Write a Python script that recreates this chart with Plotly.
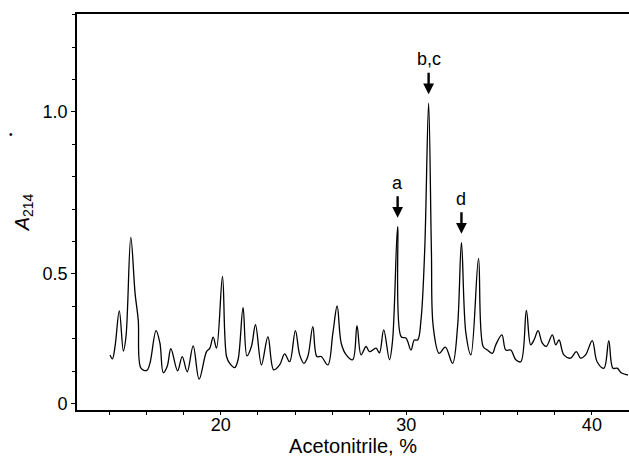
import plotly.graph_objects as go

# Chromatogram trace (acetonitrile %, A214)
acetonitrile = [14.03, 14.16, 14.30, 14.53, 14.75, 14.89, 15.15, 15.38, 15.55, 15.70,
                16.01, 16.18, 16.51, 16.72, 16.90, 17.11, 17.31, 17.67, 17.92, 18.19,
                18.51, 18.83, 19.23, 19.41, 19.59, 19.77, 20.09, 20.31, 20.48, 20.75,
                20.93, 21.20, 21.41, 21.65, 21.87, 22.19, 22.54, 22.85, 23.17, 23.44,
                23.71, 24.02, 24.25, 24.48, 24.69, 24.96, 25.18, 25.41, 25.77, 26.04,
                26.27, 26.49, 26.76, 27.11, 27.34, 27.56, 27.83, 28.01, 28.37, 28.55,
                28.78, 29.09, 29.26, 29.53, 29.72, 29.98, 30.25, 30.43, 30.61, 30.79,
                30.99, 31.20, 31.35, 31.45, 31.77, 32.10, 32.49, 32.76, 32.97, 33.21,
                33.48, 33.89, 34.14, 34.37, 34.64, 34.82, 35.15, 35.36, 35.63, 35.90,
                36.17, 36.47, 36.70, 36.88, 37.10, 37.33, 37.54, 37.87, 38.05, 38.23,
                38.49, 38.85, 39.16, 39.39, 39.66, 40.02, 40.28, 40.65, 40.91, 41.13,
                41.36, 41.60, 41.94]
absorbance = [0.250, 0.238, 0.276, 0.386, 0.262, 0.306, 0.613, 0.440, 0.358, 0.209,
              0.202, 0.224, 0.325, 0.286, 0.195, 0.214, 0.269, 0.201, 0.245, 0.198,
              0.278, 0.175, 0.260, 0.271, 0.305, 0.271, 0.492, 0.245, 0.224, 0.211,
              0.235, 0.396, 0.247, 0.276, 0.343, 0.219, 0.306, 0.204, 0.219, 0.253,
              0.229, 0.325, 0.250, 0.224, 0.245, 0.337, 0.245, 0.245, 0.219, 0.317,
              0.401, 0.286, 0.250, 0.235, 0.340, 0.250, 0.276, 0.260, 0.271, 0.256,
              0.327, 0.235, 0.296, 0.646, 0.306, 0.302, 0.265, 0.296, 0.296, 0.358,
              0.574, 1.027, 0.574, 0.337, 0.255, 0.274, 0.224, 0.337, 0.597, 0.317,
              0.250, 0.548, 0.276, 0.265, 0.255, 0.281, 0.312, 0.265, 0.265, 0.235,
              0.229, 0.387, 0.281, 0.296, 0.325, 0.286, 0.276, 0.312, 0.281, 0.296,
              0.250, 0.240, 0.260, 0.240, 0.250, 0.294, 0.229, 0.209, 0.294, 0.209,
              0.209, 0.194, 0.188]

# Labelled peaks
peak_labels = ["a", "b,c", "d"]
peak_x = [29.53, 31.20, 32.97]
peak_y = [0.646, 1.027, 0.597]

# Axis ticks
x_tickvals = [20, 30, 40]
y_tickvals = [0.1, 0.5, 1.0]
y_ticktext = ["0", "0.5", "1.0"]

FONT = "Liberation Sans, Arial, Helvetica, sans-serif"

fig = go.Figure()
fig.add_trace(go.Scatter(
    x=acetonitrile, y=absorbance, mode="lines",
    line=dict(color="black", width=1.3, shape="spline", smoothing=1.0),
    showlegend=False, hoverinfo="skip",
))

for lab, px, py in zip(peak_labels, peak_x, peak_y):
    fig.add_annotation(
        x=px, y=py + 0.027, xref="x", yref="y",
        text=lab, showarrow=True, ax=0, ay=-35,
        arrowhead=2, arrowsize=0.9, arrowwidth=2.4, arrowcolor="black",
        startstandoff=2,
        font=dict(family=FONT, size=18, color="black"),
    )

# stray scan dot at left
fig.add_annotation(x=-0.127, y=0.715, xref="paper", yref="paper",
                   text="•", showarrow=False,
                   font=dict(family=FONT, size=10, color="black"))

fig.update_layout(
    width=629, height=466,
    margin=dict(l=77, r=0, t=14, b=56),
    paper_bgcolor="white", plot_bgcolor="white",
    font=dict(family=FONT, size=18, color="black"),
    xaxis=dict(
        range=[12.25, 42.0], tickvals=x_tickvals, automargin=False,
        ticks="outside", ticklen=3, tickwidth=1.2, tickcolor="black",
        ticklabelstandoff=-5,
        minor=dict(dtick=2, tick0=0, ticks="outside", ticklen=3, tickcolor="black"),
        showline=True, linecolor="black", linewidth=1.6, mirror=True,
        showgrid=False, zeroline=False,
        tickfont=dict(family=FONT, size=18),
        title=dict(text="Acetonitrile, %", font=dict(family=FONT, size=20), standoff=0),
    ),
    yaxis=dict(
        range=[0.080, 1.302], tickvals=y_tickvals, ticktext=y_ticktext, automargin=False,
        ticks="outside", ticklen=4, tickwidth=1.2, tickcolor="black",
        minor=dict(dtick=0.1, tick0=0.1, ticks="outside", ticklen=3, tickcolor="black"),
        showline=True, linecolor="black", linewidth=1.6,
        showgrid=False, zeroline=False,
        tickfont=dict(family=FONT, size=18),
        title=dict(text="<i>A</i><sub>214</sub>", font=dict(family=FONT, size=20), standoff=8),
    ),
)

fig.write_html(
    "out.html",
    config={"displayModeBar": False},
    post_script="document.body.style.margin='0';document.body.style.overflow='hidden';",
)
